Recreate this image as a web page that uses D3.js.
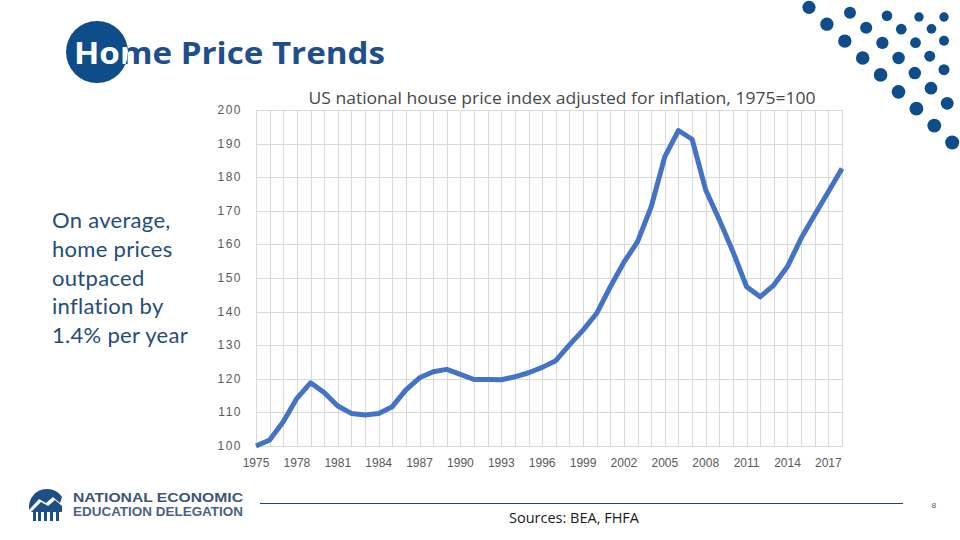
<!DOCTYPE html>
<html>
<head>
<meta charset="utf-8">
<script src="https://cdn.jsdelivr.net/npm/d3@7"></script>
<style>
body{margin:0;background:#fff}
svg{display:block}
</style>
</head>
<body>
<svg id="chart" width="960" height="540"></svg>
<script>
// categories (years) and series values
var years = [1975,1976,1977,1978,1979,1980,1981,1982,1983,1984,1985,1986,1987,1988,1989,1990,
	1991,1992,1993,1994,1995,1996,1997,1998,1999,2000,2001,2002,2003,2004,2005,2006,2007,2008,
	2009,2010,2011,2012,2013,2014,2015,2016,2017,2018];
var hpi = [100,101.8,107.2,114.2,118.8,115.9,111.9,109.7,109.2,109.7,111.7,116.7,120.3,122.1,122.8,121.3,
	119.8,119.8,119.7,120.6,121.8,123.4,125.4,130.1,134.5,139.5,147.4,154.7,160.8,171.2,186.1,193.9,191.3,176.2,
	167.3,157.8,147.4,144.4,147.9,153.4,161.8,168.8,175.7,182.6];
var yTicks = [100,110,120,130,140,150,160,170,180,190,200];
var xLabels = [1975,1978,1981,1984,1987,1990,1993,1996,1999,2002,2005,2008,2011,2014,2017];
var noteLines = ["On average,","home prices","outpaced","inflation by","1.4% per year"];

var svg = d3.select("#chart");
var navy = "#0f4c8a";

// ---- decorative dots top right (diagonal rows)
var diagonals = [
	{x:809,y:7.3,dx:17.9,dy:16.9,n:9,r0:6.6,r1:7},
	{x:850,y:12.7,dx:16.2,dy:15.1,n:7,r0:6,r1:6.4},
	{x:887,y:15.7,dx:14.25,dy:13.5,n:5,r0:5.3,r1:5.5},
	{x:919,y:17,dx:12.5,dy:11.85,n:3,r0:4.7,r1:5},
	{x:944,y:17,dx:0,dy:0,n:1,r0:4.7,r1:4.7}
];
var dots = [];
diagonals.forEach(function(d){
	for(var i=0;i<d.n;i++){
		dots.push({cx:d.x+i*d.dx, cy:d.y+i*d.dy, r:d.n>1 ? d.r0+(d.r1-d.r0)*i/(d.n-1) : d.r0});
	}
});
svg.append("g").selectAll("circle")
	.data(dots)
	.enter()
	.append("circle")
	.attr("cx",d=>d.cx).attr("cy",d=>d.cy).attr("r",d=>d.r)
	.attr("fill",navy);

// ---- slide title with circle behind "Ho"
svg.append("defs").append("clipPath").attr("id","titleClip")
	.append("circle").attr("cx",97).attr("cy",52).attr("r",31);
svg.append("circle").attr("cx",97).attr("cy",52).attr("r",31).attr("fill",navy);
function titleText(fill){
	return svg.append("text")
		.attr("x",74).attr("y",64)
		.attr("textLength",311)
		.attr("lengthAdjust","spacingAndGlyphs")
		.style("font-family","'Open Sans', sans-serif")
		.style("font-weight","bold")
		.style("font-size","31px")
		.attr("fill",fill)
		.text("Home Price Trends");
}
titleText("#1f4e8c");
titleText("#ffffff").attr("clip-path","url(#titleClip)");

// ---- left note
svg.append("g").selectAll("text")
	.data(noteLines)
	.enter()
	.append("text")
	.attr("x",52)
	.attr("y",(d,i)=>228+i*28.8)
	.style("font-family","Lato, 'Open Sans', sans-serif")
	.style("font-size","22px")
	.style("letter-spacing","0.3px")
	.attr("fill","#1f4e79")
	.text(d=>d);

// ---- chart
var x = d3.scalePoint().domain(years).range([256,842]);
var y = d3.scaleLinear().domain([100,200]).range([446,110]);

var grid = svg.append("g").attr("stroke","#d9d9d9").attr("stroke-width",1);
grid.selectAll(".vg")
	.data(years)
	.enter()
	.append("line")
	.attr("class","vg")
	.attr("x1",d=>Math.round(x(d))+0.5).attr("x2",d=>Math.round(x(d))+0.5)
	.attr("y1",y(200)).attr("y2",y(100));
grid.selectAll(".hg")
	.data(yTicks)
	.enter()
	.append("line")
	.attr("class","hg")
	.attr("x1",x(1975)).attr("x2",x(2018))
	.attr("y1",d=>Math.round(y(d))+0.5).attr("y2",d=>Math.round(y(d))+0.5);

// y labels
svg.append("g").selectAll("text")
	.data(yTicks)
	.enter()
	.append("text")
	.attr("x",242)
	.attr("y",d=>y(d)+4)
	.attr("text-anchor","end")
	.style("font-family","'Liberation Sans', sans-serif")
	.style("font-size","12px")
	.style("letter-spacing","1.5px")
	.attr("fill","#595959")
	.text(d=>d);

// x labels
svg.append("g").selectAll("text")
	.data(xLabels)
	.enter()
	.append("text")
	.attr("x",d=>x(d))
	.attr("y",467)
	.attr("text-anchor","middle")
	.style("font-family","'Liberation Sans', sans-serif")
	.style("font-size","12px")
	.attr("fill","#595959")
	.text(d=>d);

// the line
var line = d3.line()
	.x((d,i)=>x(years[i]))
	.y(d=>y(d));
svg.append("path")
	.datum(hpi)
	.attr("d",line)
	.attr("fill","none")
	.attr("stroke","#4472c4")
	.attr("stroke-width",5)
	.attr("stroke-linejoin","round");

// chart title
svg.append("text")
	.attr("x",562).attr("y",104)
	.attr("text-anchor","middle")
	.attr("textLength",507)
	.attr("lengthAdjust","spacingAndGlyphs")
	.style("font-family","'Open Sans', sans-serif")
	.style("font-size","17px")
	.attr("fill","#474747")
	.text("US national house price index adjusted for inflation, 1975=100");

// ---- footer
var logo = svg.append("g").attr("fill","#1d4f86");
logo.append("path")
	.attr("d","M29,506 A18,18 0 0 1 62,497 L60,503 L53,497 L46,503 L39,499 L29,510 Z");
logo.append("path")
	.attr("d","M31,512 L41,502 L48,506 L55,500 L62,506 L62,512 Z")
	.attr("fill","#1d4f86");
[33,38,44,50,56].forEach(function(bx,i){
	logo.append("rect").attr("x",bx).attr("y",510-i*1.5).attr("width",3).attr("height",11+i*1.5);
});
svg.append("text")
	.attr("x",73).attr("y",502)
	.attr("textLength",170).attr("lengthAdjust","spacingAndGlyphs")
	.style("font-family","'Liberation Sans Narrow', 'Liberation Sans', sans-serif")
	.style("font-weight","bold").style("font-size","13px")
	.attr("fill","#3b5577")
	.text("NATIONAL ECONOMIC");
svg.append("text")
	.attr("x",73).attr("y",516)
	.attr("textLength",170).attr("lengthAdjust","spacingAndGlyphs")
	.style("font-family","'Liberation Sans Narrow', 'Liberation Sans', sans-serif")
	.style("font-weight","bold").style("font-size","12.5px")
	.attr("fill","#4a6282")
	.text("EDUCATION DELEGATION");

svg.append("line")
	.attr("x1",260).attr("x2",903).attr("y1",503.5).attr("y2",503.5)
	.attr("stroke","#24476b").attr("stroke-width",1);
svg.append("text")
	.attr("x",574).attr("y",523)
	.attr("text-anchor","middle")
	.style("font-family","'Open Sans', sans-serif")
	.style("font-size","14.5px")
	.attr("fill","#1a1a1a")
	.text("Sources: BEA, FHFA");
svg.append("text")
	.attr("x",934).attr("y",508)
	.attr("text-anchor","middle")
	.style("font-family","'Liberation Sans', sans-serif")
	.style("font-size","8px")
	.attr("fill","#595959")
	.text("8");
</script>
</body>
</html>
